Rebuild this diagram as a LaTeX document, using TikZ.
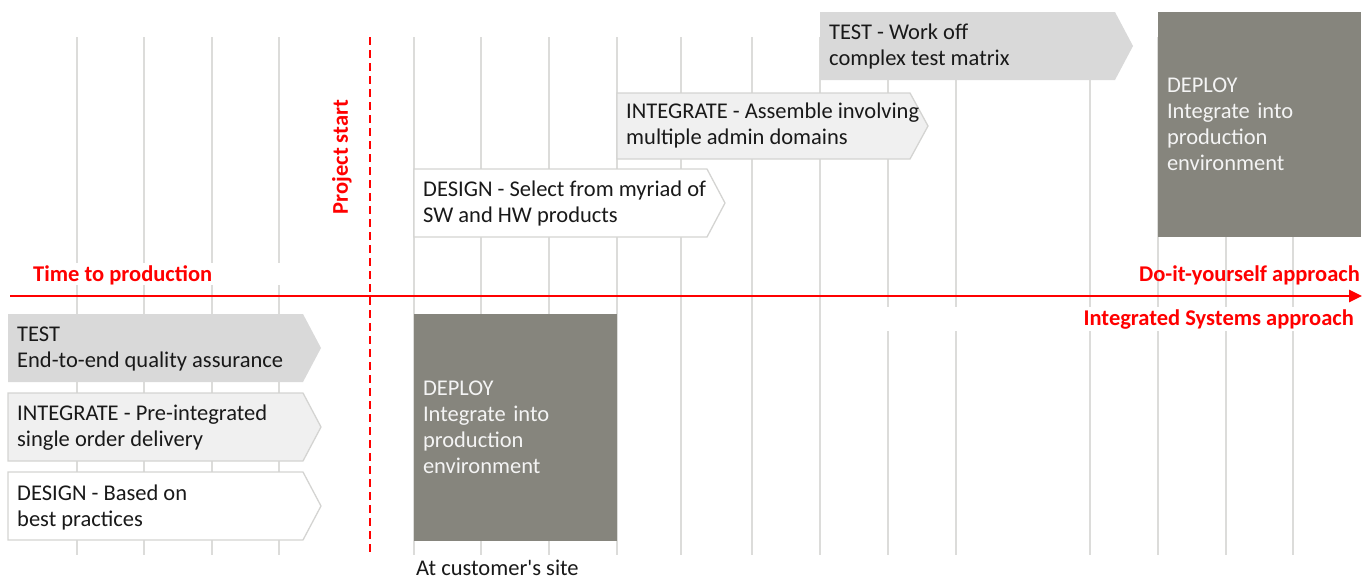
\documentclass[tikz,border=0pt]{standalone}
\usepackage{fontspec}
\setmainfont{Carlito}[Ligatures=TeXOff]
\usetikzlibrary{arrows.meta}
\definecolor{axisred}{HTML}{FF0000}
\definecolor{gridgray}{HTML}{DCDCDA}
\definecolor{lightfill}{HTML}{F0F0F0}
\definecolor{midfill}{HTML}{D9D9D9}
\definecolor{deployfill}{HTML}{86857D}
\definecolor{borderg}{HTML}{D4D4D2}
\definecolor{deploytext}{HTML}{F4F4F4}
\newcommand\chevdraw[5]{\draw[#1] (#2,#3) -- ({#4-18},#3) -- (#4,{(#3+#5)/2}) -- ({#4-18},#5) -- (#2,#5) -- cycle;}
\begin{document}
\begin{tikzpicture}[x=1pt,y=-1pt,
  gridline/.style={gridgray, line width=1.6pt},
  boxtext/.style={anchor=west, align=left, font=\fontsize{22.5}{26}\selectfont, inner sep=0pt, text=black!90},
  redlabel/.style={text=axisred, font=\fontsize{22.5}{24}\selectfont\bfseries, inner sep=0pt},
  designchev/.style={fill=white, draw=borderg, line width=1.3pt},
  integchev/.style={fill=lightfill, draw=borderg, line width=1.3pt},
  testchev/.style={fill=midfill, draw=none},
  deploybox/.style={fill=deployfill, text=deploytext, minimum width=203pt, text width=185pt, inner xsep=9pt, inner ysep=0pt, align=left, font=\fontsize{22.5}{26}\selectfont},
  axisline/.style={axisred, line width=2.6pt, -{Triangle[length=13pt,width=12pt]}},
  startline/.style={axisred, line width=1.6pt, dash pattern=on 8pt off 5pt}
]
\useasboundingbox (0,0) rectangle (1372,579);
% grid lines
\foreach \gx in {77,144,212,279,414,481,549,617,681,752,820,888,956,1090,1158,1226,1293}
  \draw[gridline] (\gx,37) -- (\gx,555);
% gaps behind labels
\fill[white] (20,263) rectangle (300,285);
\fill[white] (868,307) rectangle (1366,331);
% project start
\coordinate (pstop) at (370,37);
\coordinate (psbot) at (370,555);
\draw[startline] (pstop) -- (psbot);
\node[redlabel, rotate=90] (pstart) at (342,157) {Project start};
% axis
\coordinate (axstart) at (10,296);
\coordinate (axend) at (1362,296);
\draw[axisline] (axstart) -- (axend);
\node[redlabel, anchor=west] (ttp) at (33,275) {Time to production};
\node[redlabel, anchor=east] (diy) at (1360,275) {Do-it-yourself approach};
\node[redlabel, anchor=east] (isa) at (1354,320) {Integrated Systems approach};
% upper chevrons
\chevdraw{designchev}{414}{169}{725}{237}
\chevdraw{integchev}{617}{93}{928}{159}
\chevdraw{testchev}{820}{12}{1133}{80}
\node[boxtext] (deshigh) at (423,203) {DESIGN - Select from myriad of\\SW and HW products};
\node[boxtext] (inthigh) at (626,125) {INTEGRATE - Assemble involving\\multiple admin domains};
\node[boxtext] (testhigh) at (829,46) {TEST - Work off\\complex test matrix};
\node[deploybox, minimum height=225pt] (dephigh) at (1259.5,124.5) {DEPLOY\\Integrate into\\production\\environment};
% lower chevrons
\chevdraw{testchev}{8}{314}{321}{382}
\chevdraw{integchev}{8}{393}{321}{461}
\chevdraw{designchev}{8}{472}{321}{540}
\node[boxtext] (testlow) at (17,349) {TEST\\End-to-end quality assurance};
\node[boxtext] (intlow) at (17,428) {INTEGRATE - Pre-integrated\\single order delivery};
\node[boxtext] (deslow) at (17,507) {DESIGN - Based on\\best practices};
\node[deploybox, minimum height=227pt] (deplow) at (515.5,427.5) {DEPLOY\\Integrate into\\production\\environment};
\node[boxtext, anchor=west] (site) at (416,568) {At customer's site};
\end{tikzpicture}
\end{document}
